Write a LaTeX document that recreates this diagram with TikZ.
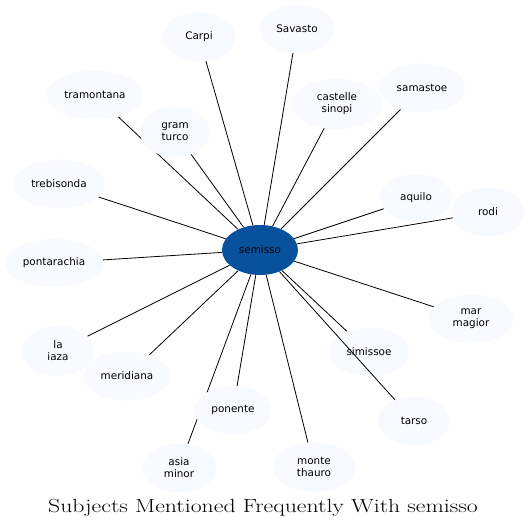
\documentclass[tikz,border=0pt]{standalone}
\usepackage{fontspec}
\newfontfamily\nodefont{DejaVu Sans}
\usetikzlibrary{shapes.geometric,backgrounds}
\definecolor{leaffill}{HTML}{F7FBFF}
\definecolor{hubfill}{HTML}{08519C}
\tikzset{
  leaf/.style={ellipse, fill=leaffill, inner sep=0pt, align=center,
    font=\nodefont\fontsize{10.4}{12}\selectfont},
  hub/.style={ellipse, fill=hubfill, inner sep=0pt,
    font=\nodefont\fontsize{10.4}{12}\selectfont},
  link/.style={draw=black, line width=0.8pt}
}
\begin{document}
\begin{tikzpicture}[x=1pt,y=-1pt]
\useasboundingbox (0,0) rectangle (530,529);
\node[hub, minimum width=76pt, minimum height=50pt] (c) at (260,250) {semisso};
\node[leaf, minimum width=72pt, minimum height=49pt] (carpi) at (199,37) {Carpi};
\node[leaf, minimum width=75pt, minimum height=48pt] (savasto) at (297,29) {Savasto};
\node[leaf, minimum width=97pt, minimum height=49pt] (tramontana) at (95,95) {tramontana};
\node[leaf, minimum width=70pt, minimum height=50pt] (gram) at (175,132) {gram\\turco};
\node[leaf, minimum width=92pt, minimum height=50pt] (castelle) at (337,104) {castelle\\sinopi};
\node[leaf, minimum width=86pt, minimum height=49pt] (samastoe) at (422,88) {samastoe};
\node[leaf, minimum width=92pt, minimum height=49pt] (trebisonda) at (59,184) {trebisonda};
\node[leaf, minimum width=72pt, minimum height=47pt] (aquilo) at (416,198) {aquilo};
\node[leaf, minimum width=72pt, minimum height=49pt] (rodi) at (488,212) {rodi};
\node[leaf, minimum width=98pt, minimum height=48pt] (pontarachia) at (54,263) {pontarachia};
\node[leaf, minimum width=72pt, minimum height=50pt] (laiaza) at (58,351) {la\\iaza};
\node[leaf, minimum width=87pt, minimum height=49pt] (meridiana) at (127,376) {meridiana};
\node[leaf, minimum width=77pt, minimum height=48pt] (ponente) at (233,410) {ponente};
\node[leaf, minimum width=74pt, minimum height=49pt] (asia) at (179,468) {asia\\minor};
\node[leaf, minimum width=83pt, minimum height=49pt] (monte) at (314,467) {monte\\thauro};
\node[leaf, minimum width=80pt, minimum height=49pt] (simissoe) at (369,352) {simissoe};
\node[leaf, minimum width=71pt, minimum height=49pt] (tarso) at (414,421) {tarso};
\node[leaf, minimum width=85pt, minimum height=49pt] (mar) at (471,319) {mar\\magior};
\begin{pgfonlayer}{background}
\foreach \n in {carpi,savasto,tramontana,gram,castelle,samastoe,trebisonda,aquilo,rodi,pontarachia,laiaza,meridiana,ponente,asia,monte,simissoe,mar}
  \draw[link] (c) -- (\n);
\end{pgfonlayer}
\draw[link] (c) -- (tarso);
\node[font=\fontsize{19}{22}\selectfont, xscale=1.25] (title) at (263,508) {Subjects Mentioned Frequently With semisso};
\end{tikzpicture}
\end{document}
